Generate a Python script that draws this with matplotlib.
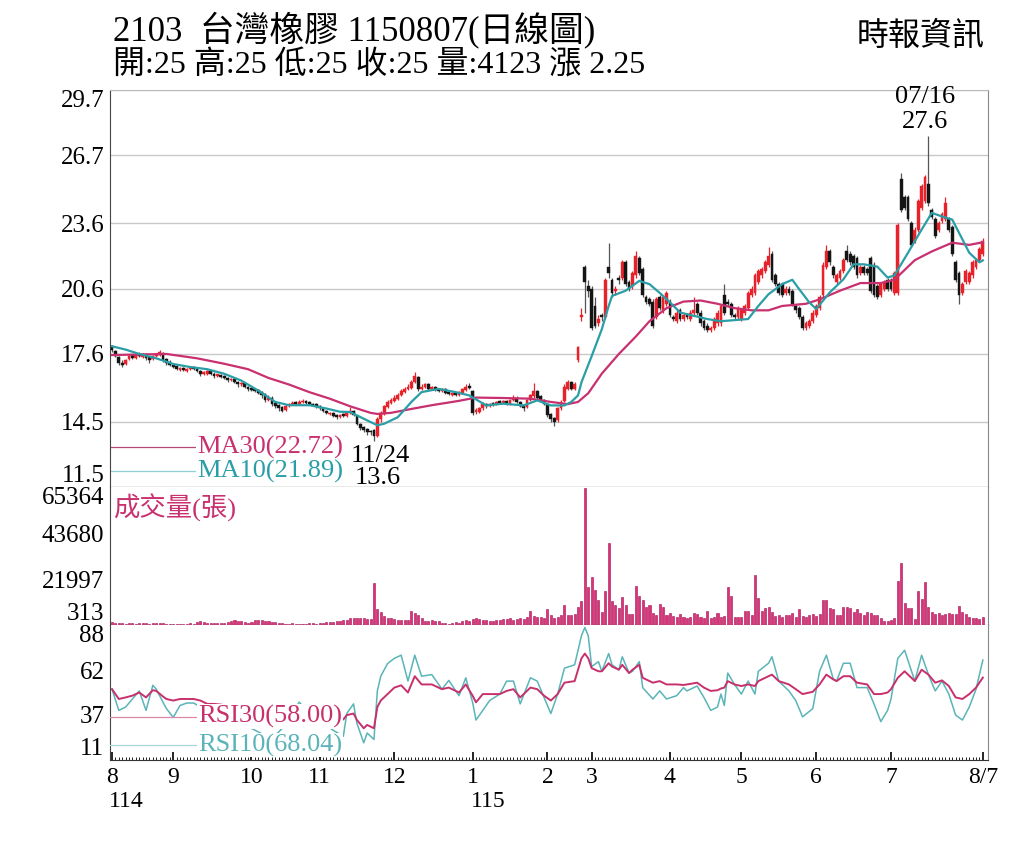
import numpy as np
import matplotlib
matplotlib.use("Agg")
import matplotlib.pyplot as plt
import matplotlib.transforms as mtransforms

plt.rcParams['font.family'] = ['Liberation Serif', 'Noto Sans CJK TC']

# daily candles, one entry per trading day (114/08 .. 115/08/07)
opens = [
    # Aug
    17.95, 17.75, 17.45, 17.2, 17.15, 17.35, 17.55, 17.4, 17.6, 17.45, 17.6, 17.45, 17.35, 17.5, 17.55, 17.65, 17.35, 17.25,
    # Sep
    17.1, 17.05, 16.85, 16.95, 16.8, 16.9, 17.0, 16.9, 16.8, 16.7, 16.7, 16.8, 16.7, 16.6, 16.65, 16.6, 16.5, 16.4, 16.45, 16.3, 16.2, 16.25, 16.1,
    # Oct
    16.05, 16.0, 15.95, 15.85, 15.75, 15.5, 15.6, 15.35, 15.25, 15.15, 15.05, 15.2, 15.3, 15.4, 15.3, 15.4, 15.45, 15.4, 15.3, 15.3,
    # Nov
    15.2, 15.1, 15.0, 14.85, 14.9, 14.8, 14.7, 14.85, 14.75, 14.9, 15.0, 14.75, 14.4, 14.25, 14.15, 14.05, 14.1, 13.85, 14.6, 14.85, 15.15, 15.35,
    # Dec
    15.45, 15.55, 15.7, 15.85, 16.0, 16.05, 16.3, 16.55, 16.0, 16.1, 16.2, 16.0, 16.1, 16.0, 15.9, 16.0, 15.85, 15.7, 15.8, 15.7, 15.8, 15.95, 16.15,
    # Jan
    15.9, 14.95, 14.95, 15.1, 15.3, 15.2, 15.35, 15.3, 15.45, 15.35, 15.45, 15.3, 15.5, 15.6, 15.4, 15.25, 15.15, 15.5, 15.65, 15.9, 15.65, 15.5,
    # Feb
    15.3, 14.85, 14.65, 14.55, 15.1, 15.45, 16.0, 16.3, 16.0, 17.3, 19.3, 21.6, 20.7,
    # Mar
    20.6, 19.8, 19.0, 19.4, 19.3, 21.6, 21.0, 20.5, 21.1, 21.1, 21.8, 20.9, 20.7, 21.2, 22.0, 21.5, 20.2, 20.1, 20.0, 19.3, 20.2, 19.6, 19.9,
    # Apr
    20.0, 19.3, 19.1, 19.6, 19.2, 19.4, 19.2, 19.5, 19.9, 19.5, 19.1, 18.9, 18.7, 18.8, 19.0, 19.0, 20.3, 20.0, 19.9, 19.4, 19.3,
    # May
    19.2, 19.5, 19.7, 20.3, 20.4, 20.9, 21.2, 21.4, 21.7, 22.2, 21.2, 20.8, 20.8, 20.4, 20.6, 20.5, 19.8, 19.7, 19.3, 18.8, 18.9, 19.1,
    # Jun
    19.4, 19.7, 20.3, 21.6, 22.3, 21.6, 20.9, 21.1, 21.4, 22.3, 22.2, 22.1, 22.0, 21.3, 21.6, 21.5, 22.0, 21.7, 20.7, 20.3, 20.6, 21.0,
    # Jul
    21.0, 20.4, 20.4, 25.6, 24.8, 24.8, 23.6, 22.8, 23.3, 24.3, 24.6, 25.4, 24.2, 23.8, 23.3, 23.7, 23.8, 23.8, 23.4, 21.8, 21.3, 20.4, 20.9,
    # Aug
    20.9, 21.2, 21.6, 21.9, 22.2,
]
closes = [
    17.8, 17.5, 17.2, 17.1, 17.3, 17.5, 17.4, 17.6, 17.5, 17.6, 17.4, 17.3, 17.5, 17.6, 17.7, 17.3, 17.2, 17.1,
    17.0, 16.9, 16.95, 16.85, 16.9, 17.0, 16.9, 16.8, 16.7, 16.75, 16.8, 16.7, 16.6, 16.65, 16.55, 16.5, 16.4, 16.45, 16.3, 16.2, 16.25, 16.1, 16.0,
    15.95, 15.9, 15.8, 15.7, 15.5, 15.6, 15.3, 15.2, 15.1, 15.0, 15.2, 15.3, 15.35, 15.3, 15.4, 15.45, 15.35, 15.3, 15.25, 15.2,
    15.1, 15.0, 14.9, 14.9, 14.75, 14.7, 14.8, 14.75, 14.9, 15.0, 14.8, 14.4, 14.2, 14.1, 14.0, 14.0, 13.85, 14.6, 14.9, 15.2, 15.4, 15.5,
    15.6, 15.7, 15.9, 16.0, 16.1, 16.3, 16.6, 16.0, 16.1, 16.2, 16.0, 16.1, 16.0, 15.9, 16.0, 15.8, 15.75, 15.8, 15.7, 15.85, 16.0, 16.1, 16.05,
    14.9, 15.0, 15.1, 15.3, 15.2, 15.3, 15.3, 15.4, 15.35, 15.45, 15.3, 15.5, 15.6, 15.4, 15.2, 15.1, 15.5, 15.7, 15.9, 15.6, 15.5, 15.3,
    14.8, 14.6, 14.5, 15.1, 15.4, 16.1, 16.3, 16.0, 16.2, 17.9, 19.4, 20.9, 20.5,
    18.8, 18.9, 19.2, 19.3, 21.0, 21.3, 20.4, 20.6, 21.0, 21.8, 20.8, 20.6, 21.3, 22.1, 21.3, 20.3, 20.0, 19.9, 18.9, 20.1, 19.7, 20.2, 20.4,
    19.4, 19.2, 19.5, 19.2, 19.4, 19.3, 19.5, 19.6, 19.5, 19.0, 18.8, 18.7, 18.8, 19.2, 19.5, 19.8, 19.5, 19.9, 19.4, 19.3, 19.7,
    19.6, 19.8, 20.4, 20.6, 21.2, 21.4, 21.5, 21.8, 22.1, 21.0, 20.8, 20.4, 20.3, 20.6, 20.4, 19.9, 19.6, 19.3, 18.8, 19.0, 19.1, 19.5,
    19.8, 20.2, 21.7, 22.3, 21.8, 21.2, 21.2, 21.4, 21.9, 21.9, 21.8, 21.6, 21.2, 21.6, 21.3, 21.3, 20.5, 20.3, 20.2, 20.8, 20.9, 20.6,
    20.6, 21.3, 23.5, 24.2, 24.3, 23.8, 22.6, 23.3, 24.6, 25.3, 25.7, 24.5, 23.9, 23.0, 23.6, 24.0, 24.5, 23.3, 22.2, 21.0, 20.3, 20.8, 21.4,
    21.3, 21.8, 21.9, 22.4, 22.8,
]
highs = [
    18.0, 17.8, 17.5, 17.3, 17.35, 17.6, 17.6, 17.65, 17.7, 17.65, 17.65, 17.5, 17.55, 17.65, 17.8, 17.7, 17.4, 17.3,
    17.15, 17.1, 17.0, 17.0, 16.95, 17.05, 17.05, 16.95, 16.85, 16.8, 16.85, 16.85, 16.75, 16.7, 16.7, 16.65, 16.55, 16.5, 16.5, 16.35, 16.3, 16.3, 16.15,
    16.1, 16.05, 16.0, 15.9, 15.8, 15.7, 15.65, 15.4, 15.3, 15.2, 15.25, 15.35, 15.45, 15.45, 15.5, 15.55, 15.5, 15.45, 15.35, 15.35,
    15.25, 15.15, 15.05, 14.95, 14.95, 14.85, 14.85, 14.9, 14.95, 15.15, 15.05, 14.8, 14.45, 14.3, 14.2, 14.1, 14.15, 14.7, 15.0, 15.25, 15.5, 15.6,
    15.7, 15.8, 16.0, 16.1, 16.2, 16.4, 16.75, 16.6, 16.2, 16.25, 16.25, 16.15, 16.15, 16.05, 16.05, 16.05, 15.9, 15.85, 15.85, 15.9, 16.05, 16.2, 16.25,
    15.95, 15.1, 15.15, 15.4, 15.35, 15.35, 15.4, 15.45, 15.5, 15.5, 15.5, 15.55, 15.7, 15.65, 15.45, 15.3, 15.55, 15.75, 16.25, 15.95, 15.7, 15.55,
    15.35, 14.9, 14.7, 15.15, 15.5, 16.2, 16.4, 16.35, 16.3, 17.95, 19.7, 21.7, 21.0,
    20.7, 20.2, 19.4, 19.5, 21.1, 22.7, 21.1, 20.7, 21.2, 21.9, 21.9, 21.0, 21.4, 22.3, 22.1, 21.6, 20.3, 20.2, 20.1, 20.2, 20.3, 20.3, 20.5,
    20.1, 19.4, 19.6, 19.7, 19.5, 19.5, 19.6, 20.2, 20.0, 19.6, 19.2, 19.0, 18.9, 19.3, 19.6, 19.9, 20.8, 20.1, 20.0, 19.5, 19.8,
    19.7, 19.9, 20.5, 20.7, 21.3, 21.5, 21.6, 21.9, 22.5, 22.3, 21.3, 20.9, 20.9, 20.7, 20.7, 20.6, 19.9, 19.8, 19.4, 19.1, 19.2, 19.6,
    19.9, 20.3, 21.8, 22.6, 22.4, 21.7, 21.3, 21.5, 22.0, 22.6, 22.3, 22.2, 22.1, 21.7, 21.7, 21.6, 22.1, 21.8, 20.8, 20.9, 21.0, 21.1,
    21.1, 21.4, 23.6, 25.9, 24.9, 24.9, 23.7, 23.4, 24.7, 25.4, 25.8, 27.6, 24.3, 23.9, 23.7, 24.1, 24.8, 23.9, 23.5, 21.9, 21.4, 20.9, 21.5,
    21.4, 21.9, 22.0, 22.5, 22.9,
]
lows = [
    17.7, 17.45, 17.1, 17.0, 17.1, 17.3, 17.35, 17.35, 17.45, 17.4, 17.3, 17.2, 17.3, 17.45, 17.5, 17.25, 17.1, 17.05,
    16.95, 16.85, 16.8, 16.8, 16.75, 16.85, 16.85, 16.75, 16.6, 16.65, 16.65, 16.65, 16.5, 16.55, 16.5, 16.45, 16.3, 16.35, 16.25, 16.1, 16.15, 16.05, 15.9,
    15.9, 15.85, 15.75, 15.6, 15.4, 15.45, 15.2, 15.1, 15.0, 14.95, 15.0, 15.15, 15.25, 15.25, 15.25, 15.35, 15.3, 15.25, 15.2, 15.1,
    15.05, 14.95, 14.85, 14.8, 14.7, 14.6, 14.65, 14.7, 14.7, 14.85, 14.75, 14.35, 14.1, 14.0, 13.9, 13.9, 13.6, 13.8, 14.5, 14.8, 15.1, 15.3,
    15.4, 15.5, 15.65, 15.8, 15.95, 16.0, 16.25, 15.9, 15.95, 16.05, 15.95, 15.95, 15.9, 15.85, 15.85, 15.75, 15.7, 15.65, 15.65, 15.65, 15.75, 15.9, 16.0,
    14.8, 14.85, 14.9, 15.05, 15.1, 15.15, 15.2, 15.25, 15.3, 15.3, 15.25, 15.25, 15.45, 15.35, 15.15, 15.0, 15.1, 15.45, 15.6, 15.55, 15.45, 15.25,
    14.7, 14.5, 14.3, 14.5, 15.05, 15.4, 15.95, 15.95, 15.95, 17.25, 19.1, 19.5, 20.2,
    18.7, 18.8, 18.9, 19.1, 19.2, 21.1, 20.2, 20.3, 20.8, 21.0, 20.7, 20.5, 20.6, 21.1, 21.2, 20.2, 19.9, 19.8, 18.8, 19.2, 19.6, 19.5, 19.8,
    19.3, 19.1, 19.0, 19.1, 19.1, 19.2, 19.1, 19.4, 19.4, 18.9, 18.7, 18.6, 18.6, 18.7, 18.9, 18.9, 19.4, 19.8, 19.3, 19.2, 19.2,
    19.1, 19.4, 19.6, 20.2, 20.3, 20.8, 21.1, 21.3, 21.6, 20.9, 20.7, 20.3, 20.2, 20.3, 20.3, 19.8, 19.5, 19.2, 18.7, 18.7, 18.8, 19.0,
    19.3, 19.6, 20.2, 21.5, 21.7, 21.1, 20.8, 21.0, 21.3, 21.8, 21.7, 21.5, 21.1, 21.2, 21.2, 21.2, 20.4, 20.2, 20.1, 20.2, 20.5, 20.5,
    20.5, 20.3, 20.3, 24.1, 24.2, 23.7, 22.5, 22.7, 23.2, 24.2, 24.5, 24.4, 23.8, 22.9, 23.2, 23.6, 23.7, 23.2, 22.1, 20.9, 19.9, 20.3, 20.8,
    20.8, 21.1, 21.5, 21.8, 22.1,
]
volumes = [
    1500, 1200, 1300, 1100, 1000, 1200, 1100, 900, 1300, 1100, 1200, 1000, 1100, 1400, 1300, 1100, 1000, 900,
    900, 800, 900, 1000, 900, 1100, 800, 1800, 2200, 1500, 1200, 1300, 1100, 1200, 1400, 1300, 1600, 2000, 2600, 2400, 2100, 1500, 1400,
    1800, 2600, 2800, 2500, 2300, 2000, 1800, 1500, 1300, 1200, 1000, 900, 1100, 1000, 900, 1000, 900, 1200, 1100, 1000,
    1200, 1300, 1500, 1600, 1800, 2000, 2200, 2600, 2900, 3400, 3600, 3800, 3700, 3500, 3300, 3000, 20100, 8000, 6400, 4500, 3800, 3500,
    3000, 2800, 2600, 2700, 2500, 6900, 5800, 4900, 3500, 2400, 2200, 2600, 2000, 2200, 1200, 1100, 1000, 1400, 1500, 1300, 2000, 2600, 2400,
    3200, 3500, 3000, 2800, 2600, 2400, 2300, 2500, 2700, 3000, 3200, 3400, 2900, 3100, 3500, 3300, 4200, 6900, 4500, 4300, 4000, 3500,
    7800, 5200, 3600, 4000, 5000, 9700, 4800, 5000, 5600, 8800, 11600, 64800, 18200,
    22900, 16800, 12100, 6400, 16300, 38900, 11600, 9700, 8300, 13500, 9700, 5500, 5600, 18700, 14000, 12100, 8800, 9700, 5900, 5000, 10200, 8800, 5000,
    5900, 4500, 4200, 5500, 4300, 3800, 4000, 5800, 5600, 4200, 3800, 6800, 3500, 4200, 5800, 4200, 4500, 18200, 14000, 4300, 4200,
    4300, 6800, 6800, 5200, 23900, 13000, 7000, 8300, 9000, 6600, 4500, 5000, 4200, 4800, 5200, 6000, 4300, 7800, 4500, 4000, 4800, 5500,
    4500, 5500, 12100, 12100, 8300, 8000, 5000, 4800, 8800, 8800, 8300, 6600, 7800, 6000, 5200, 6600, 6000, 5200, 4800, 3800, 2300, 2200,
    2600, 3500, 21000, 29500, 10700, 8300, 8500, 3000, 16300, 12600, 20600, 8800, 6600, 5500, 5800, 5200, 5500, 6000, 5700, 5500, 9300, 6600, 5500,
    4200, 3500, 3800, 3300, 4123,
]

# moving averages (day index, value)
ma30_days = [0, 16, 25, 33, 40, 46, 52, 58, 64, 70, 76, 78, 82, 87, 94, 102, 107, 115, 123, 129, 134, 137, 140, 144,
             149, 154, 158, 163, 168, 173, 178, 183, 188, 193, 197, 204, 208, 214, 220, 226, 230, 236, 241, 247, 252, 256]
ma30_vals = [17.55, 17.6, 17.4, 17.15, 16.9, 16.5, 16.2, 15.85, 15.55, 15.2, 14.9, 14.85, 14.9, 15.05, 15.25, 15.45, 15.6,
             15.58, 15.55, 15.4, 15.3, 15.4, 15.8, 16.7, 17.6, 18.4, 19.1, 19.7, 20.0, 20.05, 19.9, 19.7, 19.6, 19.6, 19.8,
             19.9, 20.1, 20.5, 20.85, 20.85, 21.0, 21.9, 22.3, 22.7, 22.6, 22.72]
ma10_days = [0, 4, 8, 13, 18, 23, 28, 33, 38, 43, 48, 52, 58, 63, 67, 70, 74, 78, 80, 84, 88, 91, 96, 101, 105, 110,
             115, 121, 125, 129, 133, 135, 137, 138, 141, 144, 146, 147, 151, 155, 158, 161, 164, 167, 171, 175, 179,
             183, 187, 190, 193, 197, 200, 202, 205, 207, 211, 215, 218, 221, 225, 228, 230, 234, 238, 241, 244, 247,
             250, 252, 255, 256]
ma10_vals = [17.95, 17.8, 17.6, 17.4, 17.14, 17.0, 16.9, 16.69, 16.38, 15.92, 15.4, 15.25, 15.25, 15.1, 14.95, 14.94,
             14.63, 14.33, 14.4, 14.7, 15.4, 15.85, 16.0, 15.85, 15.7, 15.24, 15.32, 15.24, 15.47, 15.24, 15.24, 15.4,
             15.7, 16.3, 17.5, 18.74, 19.8, 20.26, 20.5, 20.95, 20.8, 20.4, 19.97, 19.5, 19.35, 19.2, 19.1, 19.15, 19.2,
             19.8, 20.34, 20.8, 21.0, 20.57, 19.96, 19.66, 20.42, 21.02, 21.71, 21.71, 21.6, 21.1, 21.2, 22.24, 23.3,
             24.07, 23.9, 23.76, 22.85, 22.24, 21.8, 21.89]

# RSI (day index, RSI30, RSI10)
rsi_days = [0, 2, 4, 6, 8, 10, 12, 13, 15, 16, 18, 20, 22, 24, 26, 28, 30, 32, 36, 40, 44, 48, 52, 55, 58, 62, 65,
            68, 69, 71, 72, 74, 75, 77, 78, 79, 81, 83, 85, 87, 89, 91, 94, 97, 99, 102, 104, 106, 107, 109, 111, 114,
            116, 118, 120, 123, 125, 127, 129, 131, 133, 136, 138, 139, 140, 141, 143, 144, 146, 147, 149, 150, 152,
            153, 155, 156, 159, 161, 163, 166, 168, 169, 172, 174, 176, 178, 179, 180, 181, 183, 185, 187, 189, 190,
            193, 194, 196, 199, 201, 203, 206, 208, 210, 212, 213, 215, 217, 219, 222, 224, 226, 228, 229, 231, 233,
            236, 238, 240, 242, 244, 246, 248, 250, 252, 254, 256]
rsi30 = [51.4, 45.8, 46.7, 47.7, 49.5, 46.7, 50.8, 50.4, 47.2, 45.8, 44.9, 45.8, 45.8, 45.8, 44.9, 43.0, 43.0, 42.6,
         41.0, 40.0, 38.0, 37.0, 38.0, 40.0, 39.0, 37.0, 35.0, 34.1, 36.6, 37.5, 33.8, 29.1, 31.0, 29.1, 41.2, 44.9,
         48.6, 52.3, 53.6, 49.5, 58.8, 54.1, 54.1, 51.4, 52.3, 49.5, 54.1, 47.7, 43.9, 48.6, 48.6, 48.6, 50.4, 51.4,
         46.7, 52.3, 51.4, 47.7, 44.9, 48.6, 55.1, 56.0, 69.0, 71.7, 69.0, 63.4, 61.6, 61.6, 66.2, 64.3, 62.5, 65.3,
         60.6, 62.5, 65.3, 57.9, 55.1, 56.0, 54.1, 54.1, 53.8, 54.1, 55.1, 52.3, 50.4, 50.8, 51.8, 52.3, 56.0, 54.1,
         53.2, 54.1, 53.2, 56.0, 58.8, 59.7, 56.0, 54.1, 51.4, 48.6, 49.9, 54.1, 59.7, 57.0, 56.0, 58.8, 58.8, 55.1,
         54.1, 48.6, 48.6, 49.5, 51.4, 57.9, 61.6, 56.0, 62.5, 59.7, 55.1, 56.4, 53.2, 46.7, 45.8, 48.6, 52.3, 58.0]
rsi10 = [51.4, 39.3, 41.2, 45.8, 50.4, 39.3, 53.6, 51.4, 43.9, 40.3, 35.3, 42.1, 43.5, 43.5, 41.2, 40.0, 38.0, 37.0,
         34.0, 30.0, 26.0, 25.0, 33.0, 44.0, 38.0, 32.0, 28.0, 24.5, 37.5, 43.0, 31.9, 20.8, 26.4, 22.7, 50.4, 58.8,
         66.0, 69.0, 70.8, 56.0, 70.8, 58.8, 59.7, 51.4, 56.4, 47.7, 57.9, 43.9, 33.8, 39.3, 44.9, 48.6, 56.0, 56.0,
         43.0, 57.9, 56.0, 46.7, 37.5, 48.6, 63.4, 65.3, 81.9, 86.6, 81.9, 64.3, 67.1, 61.6, 71.7, 65.3, 62.5, 69.9,
         60.6, 61.6, 67.1, 52.3, 45.8, 50.4, 45.8, 47.7, 52.3, 50.4, 53.2, 46.7, 39.3, 41.2, 48.6, 42.1, 60.6, 54.1,
         48.6, 56.0, 48.6, 61.6, 66.2, 69.9, 56.0, 50.4, 44.9, 35.6, 40.3, 61.6, 70.8, 57.4, 56.0, 66.2, 66.2, 52.3,
         52.3, 43.0, 32.9, 39.3, 45.8, 69.0, 73.6, 56.0, 70.8, 59.7, 50.4, 56.0, 48.6, 36.6, 33.8, 41.2, 51.4, 68.04]

price_ticks = [11.5, 14.5, 17.6, 20.6, 23.6, 26.7, 29.7]
vol_ticks = [313, 21997, 43680, 65364]
rsi_ticks = [11, 37, 62, 88]
month_pos = [0, 18, 41, 61, 83, 106, 128, 141, 164, 185, 207, 229, 256]
month_lab = ['8', '9', '10', '11', '12', '1', '2', '3', '4', '5', '6', '7', '8/7']

RED = '#e8222b'
BLK = '#151515'
MA30_C = '#c9306f'
MA10_C = '#2a9ea6'
VOL_C = '#e0307a'
RSI30_C = '#c8306c'
RSI10_C = '#5ab4b8'

o = np.array(opens)
c = np.array(closes)
h = np.array(highs)
l = np.array(lows)
days = np.arange(len(c))

fig = plt.figure(figsize=(10.24, 8.42), dpi=100)
ax1 = fig.add_axes([0.1074, 0.4216, 0.8574, 0.4715])
ax2 = fig.add_axes([0.1074, 0.2577, 0.8574, 0.1639], sharex=ax1)
ax3 = fig.add_axes([0.1074, 0.0974, 0.8574, 0.1603], sharex=ax1)

# price panel
up = c >= o
col = np.where(up, RED, BLK)
wick = np.where(up, RED, '#555555')
ax1.vlines(days, l, h, colors=wick, lw=0.9, zorder=2)
body = np.maximum(np.abs(c - o), 0.06)
ax1.bar(days, body, bottom=np.minimum(o, c), width=0.82, color=col, edgecolor=col, lw=0.3, zorder=3)
ax1.plot(ma30_days, ma30_vals, color=MA30_C, lw=1.6, zorder=4)
ax1.plot(ma10_days, ma10_vals, color=MA10_C, lw=1.6, zorder=4)
ax1.set_ylim(11.5, 29.7)
ax1.set_yticks(price_ticks)
ax1.set_yticklabels([str(t) for t in price_ticks])
ax1.yaxis.grid(True, color='#c8c8c8', lw=1)
ax1.set_axisbelow(True)

ax1.text(239, 29.38, '07/16', ha='center', va='center', fontsize=19)
ax1.text(239, 28.24, '27.6', ha='center', va='center', fontsize=19)
ax1.text(79, 12.94, '11/24', ha='center', va='center', fontsize=19, zorder=6)
ax1.text(78, 11.9, '13.6', ha='center', va='center', fontsize=19, zorder=6)

ax1.plot([0, 0.098], [0.1, 0.1], transform=ax1.transAxes, color='#b04878', lw=0.9)
ax1.text(0.099, 0.1, 'MA30(22.72)', transform=ax1.transAxes, color=MA30_C, fontsize=19,
         va='center', ha='left', zorder=6, bbox=dict(fc='white', ec='none', pad=0.5))
ax1.plot([0, 0.098], [0.04, 0.04], transform=ax1.transAxes, color='#8fcfd2', lw=0.9)
ax1.text(0.099, 0.04, 'MA10(21.89)', transform=ax1.transAxes, color=MA10_C, fontsize=19,
         va='center', ha='left', zorder=6, bbox=dict(fc='white', ec='none', pad=0.5))

# volume panel
ax2.bar(days, volumes, width=0.6, color=VOL_C, edgecolor='#a01050', lw=0.4)
ax2.set_ylim(313, 65364)
ax2.set_yticks(vol_ticks)
ax2.set_yticklabels([str(t) for t in vol_ticks])
ax2.text(0.003, 0.85, '成交量(張)', transform=ax2.transAxes, color=MA30_C, fontsize=19, va='center', ha='left')

# RSI panel
ax3.plot(rsi_days, rsi10, color=RSI10_C, lw=1.1, zorder=2)
ax3.plot(rsi_days, rsi30, color=RSI30_C, lw=1.4, zorder=3)
ax3.set_ylim(11, 88)
ax3.set_yticks(rsi_ticks)
ax3.set_yticklabels([str(t) for t in rsi_ticks])
ax3.plot([0, 0.1], [0.32, 0.32], transform=ax3.transAxes, color='#d88aa8', lw=0.9, zorder=4)
ax3.text(0.1, 0.32, 'RSI30(58.00)', transform=ax3.transAxes, color=RSI30_C, fontsize=19,
         va='center', ha='left', zorder=6, bbox=dict(fc='white', ec='none', pad=0.5))
ax3.plot([0, 0.1], [0.11, 0.11], transform=ax3.transAxes, color='#a8d8da', lw=0.9, zorder=4)
ax3.text(0.1, 0.11, 'RSI10(68.04)', transform=ax3.transAxes, color=RSI10_C, fontsize=19,
         va='center', ha='left', zorder=6, bbox=dict(fc='white', ec='none', pad=0.5))

ax3.set_xlim(-0.6, 257.5)
ax3.set_xticks(month_pos)
ax3.set_xticklabels(month_lab)
ax3.set_xticks(days, minor=True)
ax3.tick_params(axis='x', which='major', direction='in', length=6, width=1.2, labelsize=17, pad=5)
ax3.tick_params(axis='x', which='minor', direction='in', length=2.5, width=0.6)
trans = mtransforms.blended_transform_factory(ax3.transData, ax3.transAxes)
ax3.text(-0.9, -0.23, '114', transform=trans, ha='left', va='top', fontsize=17)
ax3.text(105.6, -0.23, '115', transform=trans, ha='left', va='top', fontsize=17)

for ax in (ax1, ax2, ax3):
    ax.tick_params(axis='y', length=0, labelsize=18, pad=4)
    labs = ax.get_yticklabels()
    labs[0].set_verticalalignment('bottom')
    labs[-1].set_verticalalignment('top')
    ax.spines['left'].set_color('#444444')
    ax.spines['right'].set_color('#888888')
    ax.spines['bottom'].set_color('#333333')
for ax in (ax1, ax2):
    ax.tick_params(axis='x', which='both', bottom=False, labelbottom=False)
ax1.spines['top'].set_color('#bbbbbb')
ax2.spines['top'].set_visible(False)
ax3.spines['top'].set_visible(False)

fig.text(113 / 1024, 1 - 30 / 842, '2103  台灣橡膠 1150807(日線圖)', fontsize=25, va='center', ha='left')
fig.text(113 / 1024, 1 - 66 / 842, '開:25 高:25 低:25 收:25 量:4123 漲 2.25', fontsize=23, va='center', ha='left')
fig.text(985 / 1024, 1 - 37 / 842, '時報資訊', fontsize=23, va='center', ha='right')

fig.savefig('out.png', dpi=100)
